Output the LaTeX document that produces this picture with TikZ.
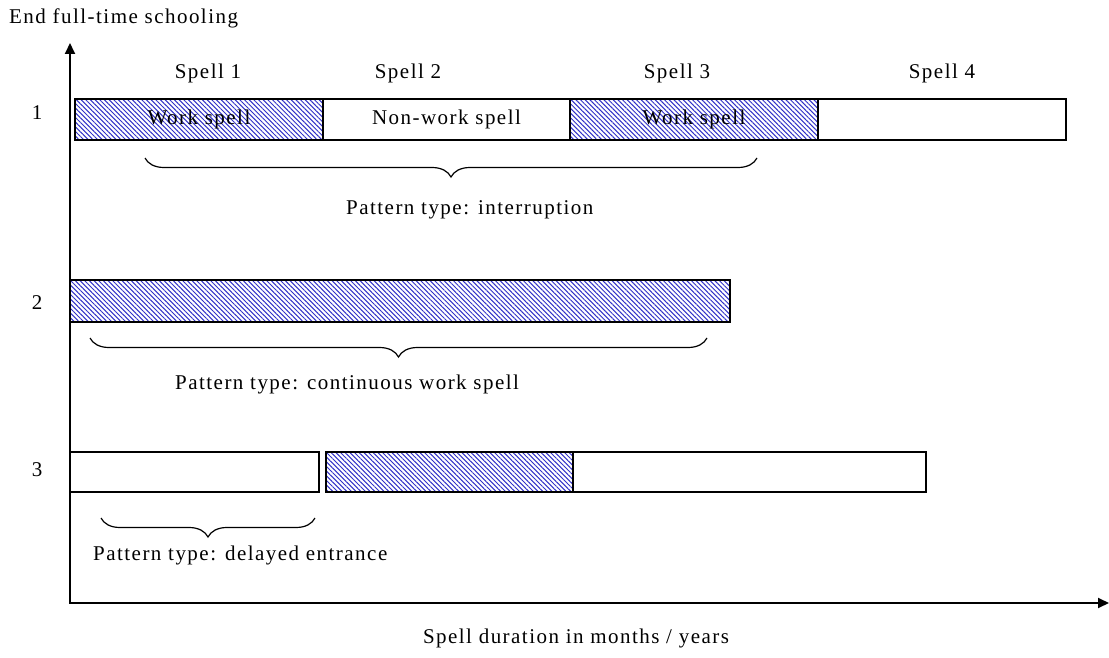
\documentclass[tikz,border=0pt]{standalone}
\usepackage{fontspec}
\setmainfont{Liberation Serif}[LetterSpace=7]
\usetikzlibrary{positioning,patterns.meta,decorations.pathreplacing,arrows.meta}
\definecolor{hatchblue}{RGB}{50,50,200}

\begin{document}
\begin{tikzpicture}[x=1pt, y=-1pt,
  every node/.style={font=\fontsize{21}{25}\selectfont, inner sep=0pt},
  spellbox/.style={draw, line width=1.3pt, inner sep=0pt, outer sep=0pt,
                   minimum height=41pt, anchor=north west},
  workbox/.style={spellbox, pattern color=hatchblue,
                  pattern={Lines[angle=-45, distance=3.3pt, line width=1pt]}},
  axis/.style={line width=1.8pt, {Triangle[length=11pt,width=10pt]}-{Triangle[length=11pt,width=10pt]}},
  patbrace/.style={decorate, decoration={brace, mirror, amplitude=19pt}, line width=1.2pt}]
  \useasboundingbox (0,0) rectangle (1109,658);
  \fill[white] (0,0) rectangle (1109,658);

  % axes
  \coordinate (ytop) at (70,43);
  \coordinate (xend) at (1109,603);
  \draw[axis] (ytop) |- (xend);
  \node[anchor=west] (ylab) at (9,18) {End full-time schooling};
  \node (xlab) at (576,638) {Spell duration in months / years};

  % spell headings
  \node (sp1) at (208,73) {Spell 1};
  \node (sp2) at (408,73) {Spell 2};
  \node (sp3) at (677,73) {Spell 3};
  \node (sp4) at (942,73) {Spell 4};

  % row 1
  \node (n1) at (37,113) {1};
  \node[workbox, minimum width=248pt] (r1a) at (75,99) {Work spell};
  \node[spellbox, minimum width=247pt, right=0pt of r1a] (r1b) {Non-work spell};
  \node[workbox, minimum width=248pt, right=0pt of r1b] (r1c) {Work spell};
  \node[spellbox, minimum width=248pt, right=0pt of r1c] (r1d) {};
  \coordinate (b1l) at (145,158);
  \coordinate (b1r) at (757,158);
  \draw[patbrace] (b1l) -- (b1r);
  \node[anchor=west] (p1) at (346,210) {Pattern type: interruption};

  % row 2
  \node (n2) at (37,303) {2};
  \node[workbox, minimum width=660pt, minimum height=42pt] (r2a) at (70,280) {};
  \coordinate (b2l) at (90,338);
  \coordinate (b2r) at (707,338);
  \draw[patbrace] (b2l) -- (b2r);
  \node[anchor=west] (p2) at (175,384) {Pattern type: continuous work spell};

  % row 3
  \node (n3) at (37,470) {3};
  \node[spellbox, minimum width=249pt, minimum height=40pt] (r3a) at (70,452) {};
  \node[workbox, minimum width=247pt, minimum height=40pt, right=7pt of r3a] (r3b) {};
  \node[spellbox, minimum width=353pt, minimum height=40pt, right=0pt of r3b] (r3c) {};
  \coordinate (b3l) at (101,518);
  \coordinate (b3r) at (315,518);
  \draw[patbrace] (b3l) -- (b3r);
  \node[anchor=west] (p3) at (93,555) {Pattern type: delayed entrance};
\end{tikzpicture}
\end{document}
